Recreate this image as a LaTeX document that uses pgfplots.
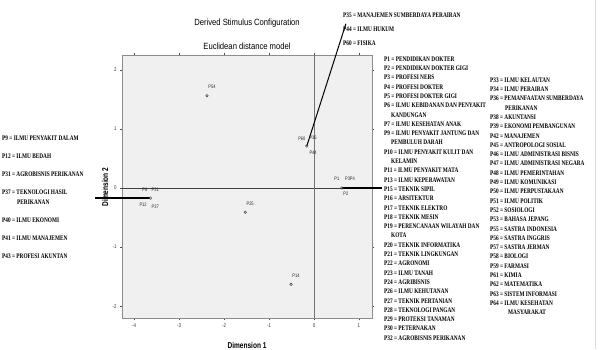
\documentclass[border=0pt]{standalone}
\usepackage{pgfplots}
\pgfplotsset{compat=1.18}
\usetikzlibrary{calc}
\usepackage{fontspec}
\setmainfont{Liberation Sans}
\newfontfamily\lgfont[FakeStretch=0.76]{Liberation Serif}
\newfontfamily\tkfont[FakeStretch=0.8]{Liberation Sans}
\newfontfamily\ttlfont[FakeStretch=0.85]{Liberation Sans}
\newfontfamily\dimfont[FakeStretch=0.77]{Liberation Sans}
\newcommand\LG{\lgfont\bfseries\fontsize{7bp}{8bp}\selectfont}
\begin{document}
\begin{tikzpicture}
\begin{axis}[
  width=250bp, height=263bp, scale only axis, clip=false,
  xmin=-4.27, xmax=1.29, ymin=-2.2, ymax=2.25,
  axis background/.style={fill=white!94!black},
  axis line style={draw=black!45},
  xtick={-4,-3,-2,-1,0,1}, ytick={-2,-1,0,1,2},
  tick align=outside, major tick length=2bp,
  tick style={black!70, line width=0.4pt},
  /pgf/number format/assume math mode=true,
  ticklabel style={font=\tkfont\fontsize{5.5bp}{6bp}\selectfont, black!80},
  xlabel={Dimension 1}, ylabel={Dimension 2},
  xlabel style={at={(axis description cs:0.5,-0.103)}, anchor=center, font=\dimfont\bfseries\fontsize{8.5bp}{9bp}\selectfont},
  ylabel style={at={(axis description cs:-0.068,0.498)}, anchor=center, font=\dimfont\bfseries\fontsize{8.5bp}{9bp}\selectfont},
]
\coordinate (bl) at (rel axis cs:0,0);
% reference lines
\addplot[black!75, line width=0.6pt] coordinates {(-4.27,0) (1.29,0)};
\addplot[black!55, line width=0.5pt] coordinates {(0,-2.2) (0,2.25)};
% leader lines
\addplot[black, line width=1pt] coordinates {(-0.16,0.71) (0.71,2.78)};
\addplot[black, line width=1.6pt] coordinates {(0.62,0) (1.51,0)};
\addplot[black, line width=1.6pt] coordinates {(-3.64,-0.17) (-4.87,-0.17)};
% stimuli
\addplot[only marks, mark=o, mark size=1.3bp, black!75, line width=0.5pt] coordinates {
(-2.38,1.56) (-0.16,0.71) (0.62,0) (-3.64,-0.17) (-1.53,-0.41) (-0.51,-1.63)};
\begin{scope}[every node/.style={font=\tkfont\fontsize{5bp}{5bp}\selectfont, black!85, inner sep=0pt}]
\node at (axis cs:-2.27,1.71) {P54};
\node at (axis cs:-0.27,0.83) {P60};
\node at (axis cs:-0.02,0.85) {P36};
\node at (axis cs:-0.02,0.59) {P44};
\node at (axis cs:0.51,0.15) {P1};
\node at (axis cs:0.80,0.15) {P3P4};
\node at (axis cs:0.71,-0.10) {P2};
\node at (axis cs:-3.76,-0.03) {P8};
\node at (axis cs:-3.53,-0.03) {P31};
\node at (axis cs:-3.8,-0.29) {P12};
\node at (axis cs:-3.53,-0.31) {P37};
\node at (axis cs:-1.42,-0.27) {P25};
\node at (axis cs:-0.4,-1.49) {P14};
\end{scope}
\node[font=\ttlfont\fontsize{9bp}{10bp}\selectfont] at (axis description cs:0.5,1.122) {Derived Stimulus Configuration};
\node[font=\ttlfont\fontsize{9bp}{10bp}\selectfont] at (axis description cs:0.5,1.034) {Euclidean distance model};
\end{axis}
\pgfresetboundingbox
\begin{scope}[shift={($(bl)-(122bp,31bp)$)}, x=1bp, y=1bp]
\path[use as bounding box] (0,0) rectangle (606,349);
\draw[black!15, line width=0.6pt] (595,0) -- (595,349);
\begin{scope}[every node/.style={anchor=west, inner sep=0pt, font=\LG}]
% top middle
\node at (343,{349-15}) {P35 = MANAJEMEN SUMBERDAYA PERAIRAN};
\node at (343,{349-29}) {P44 = ILMU HUKUM};
\node at (343,{349-43}) {P60 = FISIKA};
% left column
\node at (2,{349-138}) {P9 = ILMU PENYAKIT DALAM};
\node at (2,{349-156}) {P12 = ILMU BEDAH};
\node at (2,{349-174}) {P31 = AGROBISNIS PERIKANAN};
\node at (2,{349-192}) {P37 = TEKNOLOGI HASIL};
\node at (17,{349-202}) {PERIKANAN};
\node at (2,{349-220}) {P40 = ILMU EKONOMI};
\node at (2,{349-238}) {P41 = ILMU MANAJEMEN};
\node at (2,{349-256}) {P43 = PROFESI AKUNTAN};
% middle column
\foreach \t [count=\i from 0] in {P1 = PENDIDIKAN DOKTER, P2 = PENDIDIKAN DOKTER GIGI, P3 = PROFESI NERS, P4 = PROFESI DOKTER, P5 = PROFESI DOKTER GIGI, P6 = ILMU KEBIDANAN DAN PENYAKIT, \hspace*{7bp}KANDUNGAN, P7 = ILMU KESEHATAN ANAK, P9 = ILMU PENYAKIT JANTUNG DAN, \hspace*{7bp}PEMBULUH DARAH, P10 = ILMU PENYAKIT KULIT DAN, \hspace*{7bp}KELAMIN, P11 = ILMU PENYAKIT MATA, P13 = ILMU KEPERAWATAN, P15 = TEKNIK SIPIL, P16 = ARSITEKTUR, P17 = TEKNIK ELEKTRO, P18 = TEKNIK MESIN, P19 = PERENCANAAN WILAYAH DAN, \hspace*{7bp}KOTA, P20 = TEKNIK INFORMATIKA, P21 = TEKNIK LINGKUNGAN, P22 = AGRONOMI, P23 = ILMU TANAH, P24 = AGRIBISNIS, P26 = ILMU KEHUTANAN, P27 = TEKNIK PERTANIAN, P28 = TEKNOLOGI PANGAN, P29 = PROTEKSI TANAMAN, P30 = PETERNAKAN, P32 = AGROBISNIS PERIKANAN}
  \node at (384,{349-59-\i*9.3}) {\t};
% right column
\foreach \t [count=\i from 0] in {P33 = ILMU KELAUTAN, P34 = ILMU PERAIRAN, P36 = PEMANFAATAN SUMBERDAYA, \hspace*{15bp}PERIKANAN, P38 = AKUNTANSI, P39 = EKONOMI PEMBANGUNAN, P42 = MANAJEMEN, P45 = ANTROPOLOGI SOSIAL, P46 = ILMU ADMINISTRASI BISNIS, P47 = ILMU ADMINISTRASI NEGARA, P48 = ILMU PEMERINTAHAN, P49 = ILMU KOMUNIKASI, P50 = ILMU PERPUSTAKAAN, P51 = ILMU POLITIK, P52 = SOSIOLOGI, P53 = BAHASA JEPANG, P55 = SASTRA INDONESIA, P56 = SASTRA INGGRIS, P57 = SASTRA JERMAN, P58 = BIOLOGI, P59 = FARMASI, P61 = KIMIA, P62 = MATEMATIKA, P63 = SISTEM INFORMASI, P64 = ILMU KESEHATAN, \hspace*{18bp}MASYARAKAT}
  \node at (490,{349-80-\i*9.3}) {\t};
\end{scope}
\end{scope}
\end{tikzpicture}
\end{document}
